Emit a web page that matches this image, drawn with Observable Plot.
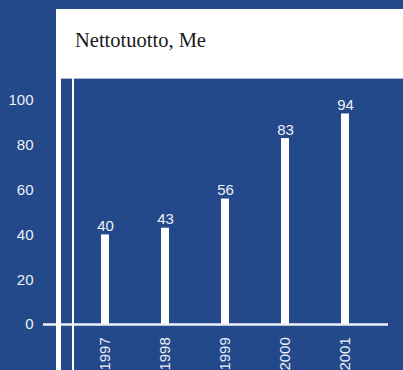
<!DOCTYPE html>
<html>
<head>
<meta charset="utf-8">
<script src="https://cdn.jsdelivr.net/npm/d3@7"></script>
<script src="https://cdn.jsdelivr.net/npm/@observablehq/plot@0.6"></script>
<style>
  html, body { margin: 0; padding: 0; background: #23498b; }
  #chart {
    position: relative; width: 403px; height: 370px; overflow: hidden;
    background: #23498b;
  }
  #chart svg { position: absolute; left: 0; top: 0; }
  .panel {
    position: absolute; left: 56px; top: 9px; width: 347px; height: 69px;
    background: #ffffff;
  }
  .title {
    position: absolute; left: 75px; top: 29.8px;
    font-family: "Liberation Serif", "Times New Roman", serif;
    font-size: 20.5px; line-height: 1; color: #1a1a1a; white-space: nowrap;
  }
  .edge {
    position: absolute; left: 61px; top: 77.5px; width: 342px; height: 1px;
    background: #a9b6d6;
  }
  .post-wide { position: absolute; left: 56px; top: 9px; width: 4.6px; height: 361px; background: #ffffff; }
  .post-thin { position: absolute; left: 72px; top: 78px; width: 2px; height: 292px; background: #ffffff; }
</style>
</head>
<body>
<div id="chart">
  <div class="panel"></div>
  <div class="edge"></div>
  <div class="post-wide"></div>
  <div class="post-thin"></div>
  <div class="title">Nettotuotto, Me</div>
</div>
<script>
// Net proceeds per year, in millions of euros
const years = ["1997", "1998", "1999", "2000", "2001"];
const values = [40, 43, 56, 83, 94];
const yTicks = [0, 20, 40, 60, 80, 100];

const data = years.map((year, i) => ({year, value: values[i]}));

const ink = "#eef0f6";

const plot = Plot.plot({
  width: 403,
  height: 370,
  marginLeft: 43,
  marginRight: 15,
  marginTop: 100,
  marginBottom: 46,
  style: {
    background: "transparent",
    color: ink,
    fontFamily: "'Liberation Sans', Arial, Helvetica, sans-serif",
    fontSize: "15px",
    overflow: "visible"
  },
  x: {type: "band", domain: years, paddingInner: 0.86, paddingOuter: 0.77, align: 0.6},
  y: {domain: [0, 100]},
  marks: [
    Plot.barY(data, {x: "year", y: "value", fill: "#ffffff"}),
    Plot.ruleY([0], {stroke: ink, strokeWidth: 2.3}),
    Plot.text(data, {x: "year", y: "value", text: d => String(d.value), dy: -8.5, fill: ink, fontSize: 15}),
    Plot.axisY(yTicks, {tickSize: 0, tickPadding: 10, fill: ink, fontSize: 15, label: null}),
    Plot.axisX({tickSize: 0, tickPadding: 12.7, tickRotate: -90, fill: ink, fontSize: 15, label: null})
  ]
});

document.getElementById("chart").insertBefore(plot, document.querySelector(".panel"));
</script>
</body>
</html>
